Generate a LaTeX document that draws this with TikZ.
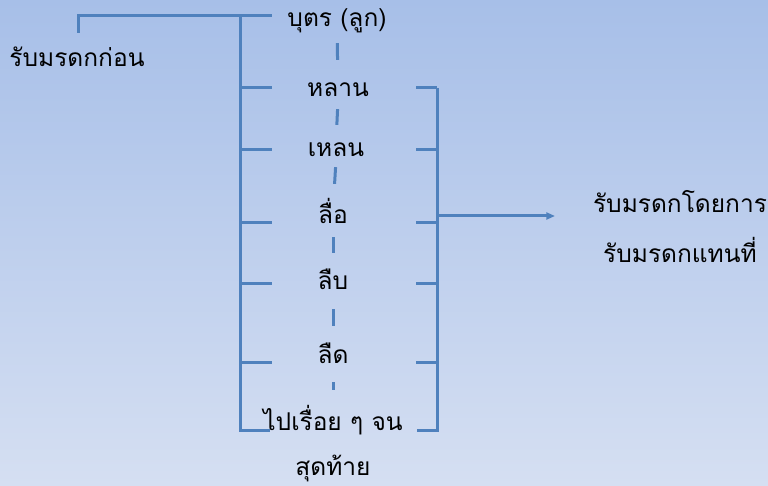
\documentclass[tikz,border=0pt]{standalone}
\usepackage{fontspec}
\newfontfamily\thaifont[Script=Thai]{Loma}
\usepackage{xcolor}
\usepackage{tikz}
\usetikzlibrary{arrows.meta,positioning,calc}
\definecolor{linkblue}{RGB}{79,129,189}
\definecolor{bgtop}{RGB}{167,191,232}
\definecolor{bgbot}{RGB}{213,223,242}
\tikzset{
  txt/.style={font=\thaifont\fontsize{24.5}{45}\selectfont,align=center,inner sep=1pt,anchor=base},
  lbl/.style={txt,text height=13pt,text depth=2pt},
  ln/.style={draw=linkblue,line width=3pt},
  arr/.style={ln,-{Triangle[length=3mm,width=2.4mm]}},
}
\begin{document}
\begin{tikzpicture}[x=1pt,y=-1pt]
\shade[top color=bgtop,bottom color=bgbot] (0,0) rectangle (768,486);
\useasboundingbox (0,0) rectangle (768,486);
% generations
\node[lbl] (bu) at (337,27) {บุตร (ลูก)};
\node[lbl] (lan) at (338,97) {หลาน};
\node[lbl] (len) at (336,157) {เหลน};
\node[lbl] (lue) at (333,224) {ลื่อ};
\node[lbl] (luep) at (333,290) {ลืบ};
\node[lbl] (lued) at (333,363) {ลืด};
\node[txt] (pai) at (333,475) {ไปเรื่อย ๆ จน\\สุดท้าย};
\node[lbl] (first) at (77,67) {รับมรดกก่อน};
\node[txt,font=\thaifont\fontsize{24.5}{49}\selectfont] (repl) at (680,262) {รับมรดกโดยการ\\รับมรดกแทนที่};
% brackets
\coordinate (ftop) at (78,33);
\coordinate (spine) at (240,16);
\coordinate (sbot) at (240,430);
\coordinate (rtop) at (437,88);
\coordinate (rbot) at (437,430);
\coordinate (rmid) at (437,216);
\coordinate (tip) at (555,216);
\draw[ln] (ftop) |- (272,16);
\draw[ln] (spine) -- (sbot) -- ++(30,0);
\draw[ln] (rtop) -- (rbot) -- ++(-20,0);
\foreach \y in {88,150,223,284,362} {
  \draw[ln] (240,\y) -- ++(32,0);
  \draw[ln] (437,\y) -- ++(-21,0);
}
\draw[arr] (rmid) -- (tip);
\foreach \a/\b/\p/\q in {bu/lan/13/23,lan/len/9/18,len/lue/7/26,lue/luep/10/23,luep/lued/16/23,lued/pai/16/14}
  \draw[ln,shorten <=\p pt,shorten >=\q pt] (\a.south) -- (\b.north);
\end{tikzpicture}
\end{document}
